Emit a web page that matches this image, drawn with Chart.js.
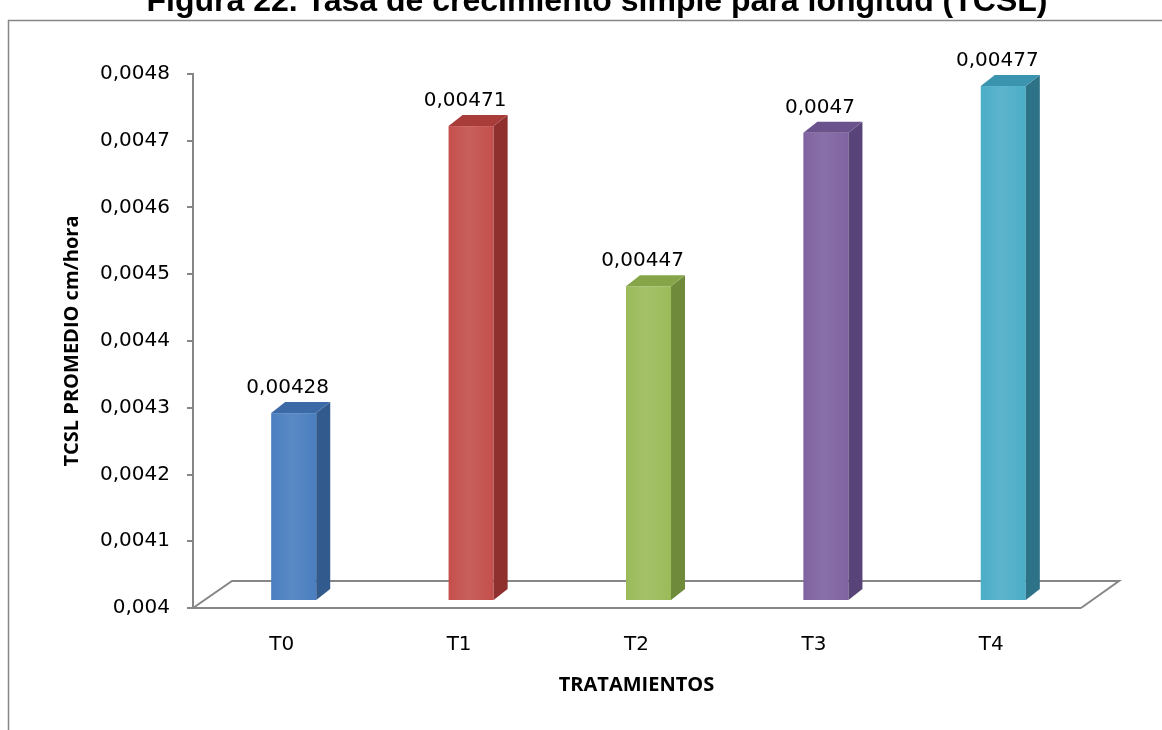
<!DOCTYPE html>
<html>
<head>
<meta charset="utf-8">
<script src="https://cdn.jsdelivr.net/npm/chart.js@4.4.1/dist/chart.umd.min.js"></script>
<style>
  html, body { margin: 0; padding: 0; background: #fff; overflow: hidden; }
  #wrap { position: absolute; left: 0; top: -19px; width: 1162px; height: 749px; }
</style>
</head>
<body>
<div id="wrap"><canvas id="grafico" width="1162" height="749"></canvas></div>
<script>
// datos del grafico
var tratamientos = ['T0', 'T1', 'T2', 'T3', 'T4'];
var tcsl = [0.00428, 0.00471, 0.00447, 0.0047, 0.00477];
var yMin = 0.004, yMax = 0.0048, yPaso = 0.0001;

var titulo = 'Figura 22. Tasa de crecimiento simple para longitud (TCSL)';
var tituloY = 'TCSL PROMEDIO cm/hora';
var tituloX = 'TRATAMIENTOS';

// colores de las caras (frente, lado, tapa)
var frente = ['#4a7ebf', '#c44f4c', '#9bbb59', '#7f63a1', '#4badc7'];
var lado   = ['#335a8c', '#8f302e', '#6e8a3a', '#584478', '#2e7288'];
var tapa   = ['#3c6aa6', '#a83c39', '#86a549', '#6b528c', '#3b94ad'];

function coma(v) {
    return Number(v.toFixed(5)).toString().replace('.', ',');
}

var gris = '#868686';

// marco del grafico y titulo (recortado arriba, como en el documento)
var marco = {
    id: 'marco',
    beforeDraw: function (chart) {
        var ctx = chart.ctx;
        ctx.save();
        ctx.fillStyle = '#000';
        ctx.font = 'bold 32px "Liberation Sans", Arial';
        ctx.textAlign = 'center';
        ctx.textBaseline = 'alphabetic';
        ctx.fillText(titulo, 597, 30);
        ctx.strokeStyle = gris;
        ctx.lineWidth = 1.5;
        ctx.strokeRect(8.5, 39.5, 3000, 3000);
        ctx.restore();
    }
};

// piso en perspectiva y barras 3D
var barras3d = {
    id: 'barras3d',
    beforeDatasetsDraw: function (chart) {
        var ctx = chart.ctx, a = chart.chartArea;
        var dx = 39, dy = -27;
        ctx.save();
        ctx.strokeStyle = gris;
        ctx.lineWidth = 2;
        ctx.beginPath();
        ctx.moveTo(a.left, a.bottom);
        ctx.lineTo(a.left + dx, a.bottom + dy);
        ctx.lineTo(a.right + dx, a.bottom + dy);
        ctx.lineTo(a.right + 1, a.bottom);
        ctx.stroke();
        ctx.restore();
    },
    afterDatasetsDraw: function (chart) {
        var ctx = chart.ctx;
        var meta = chart.getDatasetMeta(0);
        var base = chart.scales.y.getPixelForValue(yMin);
        var ox = 12, oy = -8, px = 14, py = -11;
        ctx.save();
        meta.data.forEach(function (bar, i) {
            var w = bar.width;
            var x0 = bar.x - w / 2 + ox;
            var x1 = x0 + w;
            var yTop = bar.y + oy;
            var yBot = base + oy;

            var g = ctx.createLinearGradient(x0, 0, x1, 0);
            g.addColorStop(0, frente[i]);
            g.addColorStop(0.45, Chart.helpers.color(frente[i]).lighten(0.08).rgbString());
            g.addColorStop(1, frente[i]);
            ctx.fillStyle = g;
            ctx.fillRect(x0, yTop, w, yBot - yTop);

            ctx.fillStyle = lado[i];
            ctx.beginPath();
            ctx.moveTo(x1, yTop);
            ctx.lineTo(x1 + px, yTop + py);
            ctx.lineTo(x1 + px, yBot + py);
            ctx.lineTo(x1, yBot);
            ctx.closePath();
            ctx.fill();

            ctx.fillStyle = tapa[i];
            ctx.beginPath();
            ctx.moveTo(x0, yTop);
            ctx.lineTo(x0 + px, yTop + py);
            ctx.lineTo(x1 + px, yTop + py);
            ctx.lineTo(x1, yTop);
            ctx.closePath();
            ctx.fill();

            ctx.fillStyle = '#000';
            ctx.font = '20px "DejaVu Sans"';
            ctx.textAlign = 'center';
            ctx.textBaseline = 'middle';
            ctx.fillText(coma(tcsl[i]), bar.x + 6, yTop - 25);
        });
        ctx.restore();
    }
};

var ctx = document.getElementById('grafico').getContext('2d');
var grafico = new Chart(ctx, {
    type: 'bar',
    data: {
        labels: tratamientos,
        datasets: [{
            data: tcsl,
            backgroundColor: 'rgba(0,0,0,0)',
            borderWidth: 0,
            barPercentage: 0.254,
            categoryPercentage: 1
        }]
    },
    options: {
        responsive: false,
        animation: false,
        layout: { padding: { top: 93, left: 0, right: 82, bottom: 0 } },
        plugins: {
            legend: { display: false },
            tooltip: { enabled: false },
            title: { display: false }
        },
        scales: {
            x: {
                afterFit: function (s) { s.height = 122; },
                grid: { display: false, drawTicks: false },
                border: { display: true, color: gris, width: 2 },
                ticks: { color: '#000', padding: 25, font: { family: '"DejaVu Sans"', size: 20 } },
                title: {
                    display: true, text: tituloX, color: '#000',
                    font: { family: '"Open Sans"', size: 20, weight: 'bold' },
                    padding: { top: 0, bottom: 33 }
                }
            },
            y: {
                min: yMin,
                max: yMax,
                afterFit: function (s) { s.width = 193; },
                grid: { drawOnChartArea: false, drawTicks: true, tickLength: 6, color: gris, lineWidth: 2 },
                border: { display: true, color: gris, width: 2 },
                ticks: {
                    stepSize: yPaso,
                    color: '#000',
                    padding: 17,
                    font: { family: '"DejaVu Sans"', size: 20 },
                    callback: function (v) { return coma(v); }
                },
                title: {
                    display: true, text: tituloY, color: '#000',
                    font: { family: '"Open Sans"', size: 20, weight: 'bold' },
                    padding: { top: 60, bottom: 0 }
                }
            }
        }
    },
    plugins: [marco, barras3d]
});
</script>
</body>
</html>
